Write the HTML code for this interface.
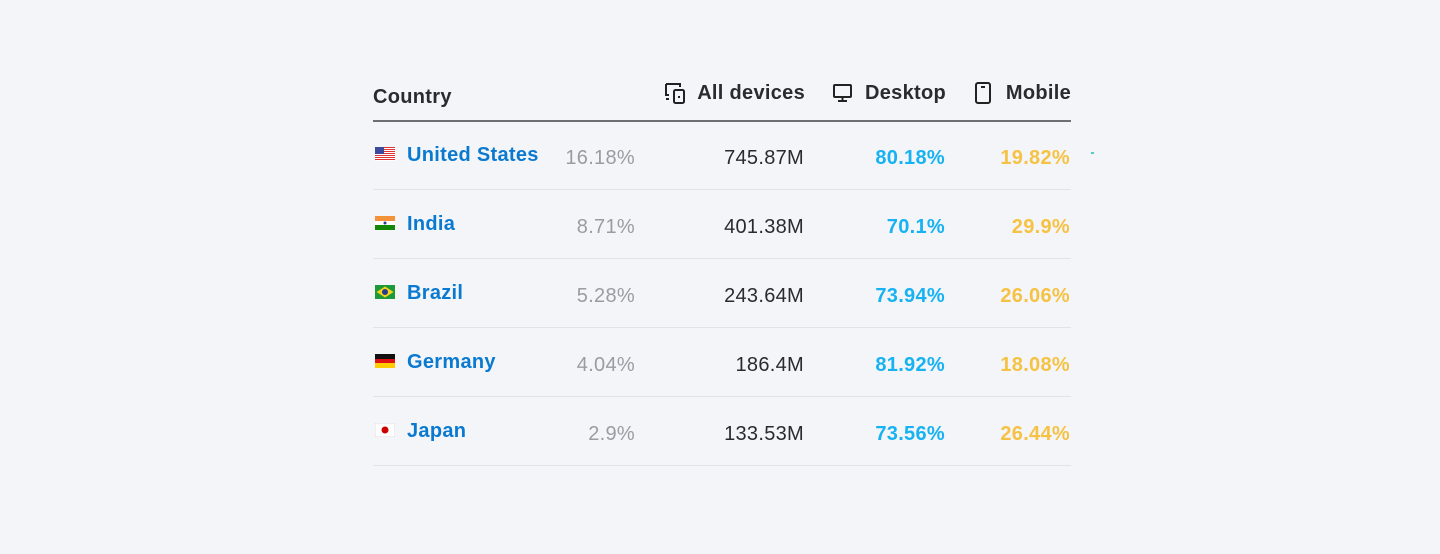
<!DOCTYPE html>
<html><head><meta charset="utf-8"><style>
body{margin:0;width:1440px;height:554px;background:#f4f5f9;font-family:"Liberation Sans",sans-serif;position:relative;overflow:hidden}
.a{position:absolute;white-space:nowrap;letter-spacing:0.3px}
.h{font-size:20px;font-weight:bold;color:#2a2b30}
.hr{width:120px;text-align:right}
.name{font-size:20px;font-weight:bold;color:#0a7ad0;left:407px}
.sh{font-size:20px;color:#9a9ca3;width:200px;left:435px;text-align:right}
.tot{font-size:20px;color:#2a2b30;width:200px;left:604px;text-align:right}
.dt{font-size:20px;font-weight:bold;color:#16b2f2;width:150px;left:795px;text-align:right}
.mb{font-size:20px;font-weight:bold;color:#f6c244;width:150px;left:920px;text-align:right}
.sep{position:absolute;left:373px;width:698px;height:1px;background:#e1e3e8}
.flag{position:absolute;left:375px;width:20px;height:14px}
</style></head><body>
<div class="a h" style="left:373px;top:86px">Country</div>
<svg class="a" style="left:664px;top:81px" width="24" height="24" viewBox="0 0 24 24"><path d="M2 3h14v3M2 3v11h3M2 18h3" fill="none" stroke="#222" stroke-width="2"/><rect x="10" y="9" width="10" height="13" rx="1.5" fill="none" stroke="#222" stroke-width="2"/><rect x="14" y="15" width="2" height="2" fill="#222"/></svg>
<div class="a h hr" style="left:685px;top:82px">All devices</div>
<svg class="a" style="left:832px;top:82px" width="22" height="22" viewBox="0 0 22 22"><rect x="2" y="3" width="17" height="12" rx="1" fill="none" stroke="#222" stroke-width="2"/><path d="M10.5 15v4M6 19h9" stroke="#222" stroke-width="2"/></svg>
<div class="a h hr" style="left:826px;top:82px">Desktop</div>
<svg class="a" style="left:973px;top:81px" width="20" height="24" viewBox="0 0 20 24"><rect x="3" y="2" width="14" height="20" rx="2" fill="none" stroke="#222" stroke-width="2"/><path d="M8 6h4" stroke="#222" stroke-width="2"/></svg>
<div class="a h hr" style="left:951px;top:82px">Mobile</div>
<div class="sep" style="top:120px;height:2px;background:#6e6f74"></div>
<div id="rows"></div>
<div class="a" style="left:1091px;top:152px;width:3px;height:2px;background:#5cc"></div>
<script>
const countries=["United States","India","Brazil","Germany","Japan"];
const shares=["16.18%","8.71%","5.28%","4.04%","2.9%"];
const totals=["745.87M","401.38M","243.64M","186.4M","133.53M"];
const desktop=["80.18%","70.1%","73.94%","81.92%","73.56%"];
const mobile=["19.82%","29.9%","26.06%","18.08%","26.44%"];
const flags=[
'<svg width="20" height="14"><rect width="20" height="14" fill="#fff"/><g fill="#d33">'+[0,2,4,6,8,10,12].map(y=>`<rect y="${y}" width="20" height="1"/>`).join('')+'</g><rect width="9" height="7" fill="#3b4a9a"/></svg>',
'<svg width="20" height="14"><rect width="20" height="5" fill="#f4923a"/><rect y="5" width="20" height="4" fill="#fff"/><rect y="9" width="20" height="5" fill="#138808"/><circle cx="10" cy="7" r="1.5" fill="#2a3c8f"/></svg>',
'<svg width="20" height="14"><rect width="20" height="14" fill="#1c9a3a"/><path d="M10 1.5L18.5 7L10 12.5L1.5 7Z" fill="#f7d21b"/><circle cx="10" cy="7" r="3" fill="#233d8c"/></svg>',
'<svg width="20" height="14"><rect width="20" height="5" fill="#111"/><rect y="5" width="20" height="4" fill="#d11"/><rect y="9" width="20" height="5" fill="#fc0"/></svg>',
'<svg width="20" height="14"><rect width="20" height="14" fill="#fff" stroke="#ddd"/><circle cx="10" cy="7" r="3.5" fill="#c00"/></svg>'];
const root=document.getElementById('rows');
countries.forEach((c,i)=>{
  const top=121+i*69;
  const f=document.createElement('div');f.className='flag';f.style.top=(top+26)+'px';f.innerHTML=flags[i];
  
  
  root.appendChild(f);
  const n=document.createElement('div');n.className='a name';n.style.top=(top+23)+'px';n.textContent=c;
  
  
  root.appendChild(n);
  const s=document.createElement('div');s.className='a sh';s.style.top=(top+26)+'px';s.textContent=shares[i];
  
  
  root.appendChild(s);
  const t=document.createElement('div');t.className='a tot';t.style.top=(top+26)+'px';t.textContent=totals[i];
  
  
  root.appendChild(t);
  const d=document.createElement('div');d.className='a dt';d.style.top=(top+26)+'px';d.textContent=desktop[i];
  
  
  root.appendChild(d);
  const m=document.createElement('div');m.className='a mb';m.style.top=(top+26)+'px';m.textContent=mobile[i];
  
  
  root.appendChild(m);
  const l=document.createElement('div');l.className='sep';l.style.top=(top+68)+'px';
  
  
  root.appendChild(l);
});
</script>
</body></html>
